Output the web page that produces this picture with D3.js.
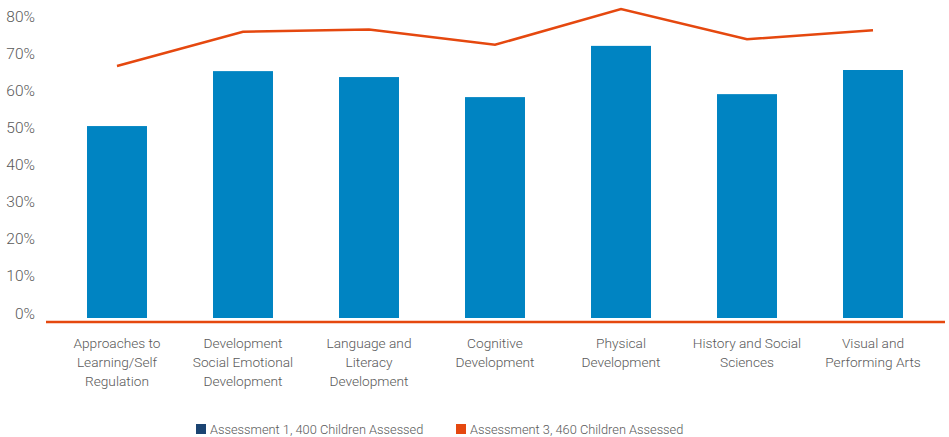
<!DOCTYPE html>
<html>
<head>
<meta charset="utf-8">
<script src="https://cdn.jsdelivr.net/npm/d3@7"></script>
<style>
  body { margin: 0; background: #fff; }
  text { font-family: Roboto, "Open Sans", sans-serif; font-weight: 300; fill: #595959; }
</style>
</head>
<body>
<div id="chart"></div>
<script>
// categories (multi-line labels split with |)
const categories = [
  "Approaches to|Learning/Self|Regulation",
  "Development|Social Emotional|Development",
  "Language and|Literacy|Development",
  "Cognitive|Development",
  "Physical|Development",
  "History and Social|Sciences",
  "Visual and|Performing Arts"
]
const assessment1 = [51.7, 66.5, 64.9, 59.5, 73.3, 60.3, 66.8]
const assessment3 = [67.9, 77.1, 77.7, 73.6, 83.2, 75.1, 77.5]
const yTicks = [0, 10, 20, 30, 40, 50, 60, 70, 80]
const legendNames = ["Assessment 1, 400 Children Assessed", "Assessment 3, 460 Children Assessed"]

const width = 949
const height = 437
const barBlue = "#0084C2"
const orange = "#E5480F"
const navy = "#1B4472"

const svg = d3.select("#chart").append("svg")
  .attr("width", width)
  .attr("height", height)

const x = d3.scaleBand().domain(d3.range(categories.length)).range([54, 936]).padding(0)
const barW = x.bandwidth() * 0.476
const y = d3.scaleLinear().domain([0, 80]).range([318, 21])

// y axis labels (no line, no ticks)
svg.append("g").selectAll("text")
  .data(yTicks)
  .join("text")
    .attr("x", 35)
    .attr("y", d => y(d) + 0.5)
    .attr("text-anchor", "end")
    .style("font-size", "15.5px")
    .text(d => d + "%")

// bars
svg.append("g").selectAll("rect")
  .data(assessment1)
  .join("rect")
    .attr("x", (d, i) => x(i) + (x.bandwidth() - barW) / 2)
    .attr("y", d => y(d))
    .attr("width", barW)
    .attr("height", d => y(0) - y(d))
    .attr("fill", barBlue)

// baseline (orange category axis)
svg.append("line")
  .attr("x1", 46).attr("x2", 945)
  .attr("y1", 322).attr("y2", 322)
  .attr("stroke", orange)
  .attr("stroke-width", 2.5)

// line series
svg.append("path")
  .datum(assessment3)
  .attr("fill", "none")
  .attr("stroke", orange)
  .attr("stroke-width", 2.5)
  .attr("d", d3.line()
    .x((d, i) => x(i) + x.bandwidth() / 2)
    .y(d => y(d)))

// category labels
const cat = svg.append("g").selectAll("text")
  .data(categories)
  .join("text")
    .attr("x", (d, i) => x(i) + x.bandwidth() / 2)
    .attr("y", 347.5)
    .attr("text-anchor", "middle")
    .style("font-size", "13.7px")
cat.selectAll("tspan")
  .data(d => d.split("|"))
  .join("tspan")
    .attr("x", function() { return this.parentNode.getAttribute("x") })
    .attr("dy", (d, i) => i === 0 ? 0 : 19)
    .text(d => d)

// legend
const legend = svg.append("g")
const legendX = [196, 456]
const legendColors = [navy, orange]
legendNames.forEach((name, i) => {
  legend.append("rect")
    .attr("x", legendX[i]).attr("y", 424)
    .attr("width", 10).attr("height", 10)
    .attr("fill", legendColors[i])
  legend.append("text")
    .attr("x", legendX[i] + 14).attr("y", 433.5)
    .style("font-size", "12.8px")
    .text(name)
})
</script>
</body>
</html>
